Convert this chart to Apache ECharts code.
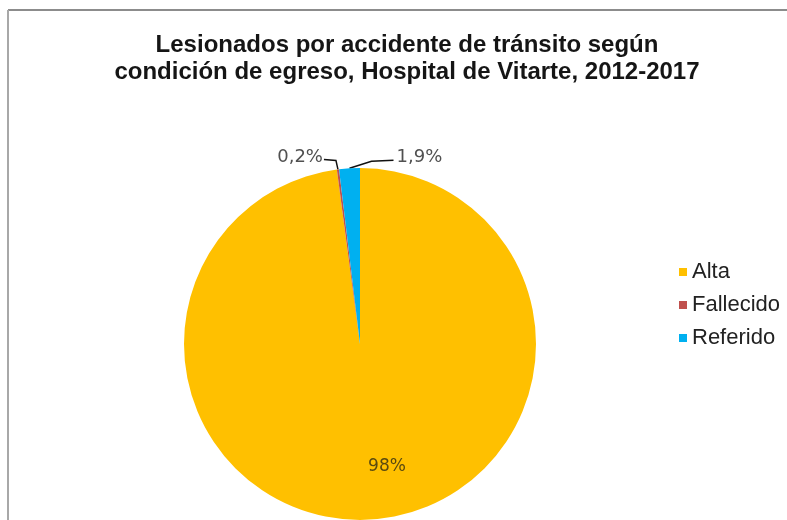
<!DOCTYPE html>
<html>
<head>
<meta charset="utf-8">
<script src="https://cdn.jsdelivr.net/npm/echarts@6/dist/echarts.min.js"></script>
<style>
html,body{margin:0;padding:0;background:#fff;}
#c{width:787px;height:520px;}
</style>
</head>
<body>
<div id="c"></div>
<script>
var titleText = 'Lesionados por accidente de tránsito según\ncondición de egreso, Hospital de Vitarte, 2012-2017';
var categories = ['Alta', 'Fallecido', 'Referido'];
var values = [97.9, 0.2, 1.9];
var labelTexts = ['98%', '0,2%', '1,9%'];
var colors = ['#FFC000', '#C0504D', '#00B0F0'];

var chart = echarts.init(document.getElementById('c'), null, {renderer: 'canvas'});

var data = categories.map(function (c, i) {
  var item = {name: c, value: values[i], itemStyle: {color: colors[i]}};
  if (i === 0) {
    item.label = {position: 'inside', color: '#5a4a10', fontSize: 17, fontFamily: 'DejaVu Sans'};
    item.labelLine = {show: false};
  }
  return item;
});

chart.setOption({
  animation: false,
  backgroundColor: '#fff',
  title: {
    text: titleText,
    left: 402,
    top: 27,
    textAlign: 'center',
    textStyle: {fontFamily: 'Liberation Sans', fontWeight: 'bold', fontSize: 24, lineHeight: 27, color: '#151515'}
  },
  legend: {
    orient: 'vertical',
    left: 674,
    top: 256,
    itemWidth: 8,
    itemHeight: 8,
    itemGap: 11,
    icon: 'rect',
    textStyle: {fontFamily: 'Liberation Sans', fontSize: 22, color: '#222'},
    data: categories
  },
  graphic: [
    {type: 'line', shape: {x1: 8, y1: 10, x2: 787, y2: 10}, style: {stroke: '#8c8c8c', lineWidth: 2}, silent: true},
    {type: 'line', shape: {x1: 8, y1: 10, x2: 8, y2: 520}, style: {stroke: '#a8a8a8', lineWidth: 2}, silent: true}
  ],
  series: [{
    type: 'pie',
    center: [360, 344],
    radius: ['0%', 176],
    startAngle: 90,
    clockwise: true,
    avoidLabelOverlap: false,
    minAngle: 0,
    data: data,
    label: {
      formatter: function (p) { return labelTexts[p.dataIndex]; },
      color: '#505050',
      fontSize: 18,
      fontFamily: 'DejaVu Sans'
    },
    labelLine: {show: true, length: 10, length2: 10, lineStyle: {color: '#111', width: 1.5}},
    labelLayout: function (p) {
      if (p.dataIndex === 0) {
        return {dx: 21, dy: 32};
      }
      var p0 = p.labelLinePoints ? p.labelLinePoints[0] : null;
      if (!p0) return {};
      if (p.dataIndex === 1) {
        return {
          x: p0[0] - 15, y: p0[1] - 12, align: 'right', verticalAlign: 'middle',
          labelLinePoints: [p0, [p0[0] - 2, p0[1] - 9], [p0[0] - 14, p0[1] - 10]]
        };
      }
      if (p.dataIndex === 2) {
        return {
          x: p0[0] + 47, y: p0[1] - 11, align: 'left', verticalAlign: 'middle',
          labelLinePoints: [p0, [p0[0] + 22, p0[1] - 7], [p0[0] + 44, p0[1] - 8]]
        };
      }
      return {};
    }
  }]
});
</script>
</body>
</html>
